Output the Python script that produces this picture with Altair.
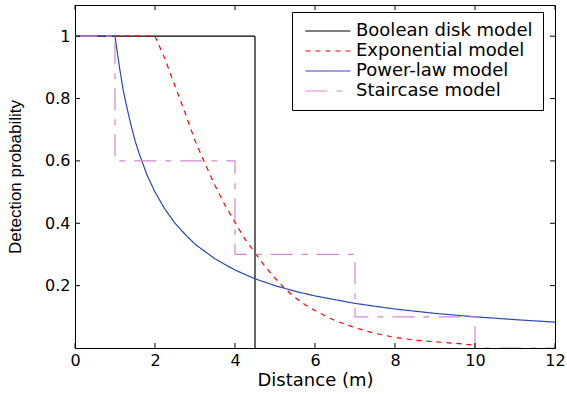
import altair as alt
import pandas as pd

# ---------------- data ----------------
models = ["Boolean disk model", "Exponential model", "Power-law model", "Staircase model"]
colors = ["#000000", "#ff0000", "#2a48b4", "#d386cf"]
dashes = [[1, 0], [5, 5], [1, 0], [22, 9, 6, 9]]

boolean_x = [0, 4.5, 4.5]
boolean_y = [1, 1, 0]

exp_x = [0, 2, 2.25, 2.5, 2.75, 3, 3.25, 3.5, 3.75, 4, 4.25, 4.5, 4.75, 5, 5.25,
         5.5, 5.75, 6, 6.5, 7, 7.5, 8, 8.5, 9, 9.5, 10]
exp_y = [1, 1, 0.927, 0.84, 0.755, 0.665, 0.592, 0.521, 0.458, 0.403, 0.349, 0.305,
         0.262, 0.224, 0.19, 0.162, 0.139, 0.12, 0.088, 0.065, 0.047, 0.034, 0.025,
         0.02, 0.015, 0.009]

power_x = [0, 1, 1.1, 1.2, 1.3, 1.4, 1.5, 1.6, 1.8, 2, 2.25, 2.5, 2.75, 3, 3.5, 4,
           4.5, 5, 5.5, 6, 7, 8, 9, 10, 11, 12]
power_y = [1, 1, 0.91, 0.83, 0.77, 0.715, 0.665, 0.625, 0.555, 0.5, 0.445, 0.4, 0.365,
           0.333, 0.286, 0.25, 0.222, 0.2, 0.182, 0.167, 0.143, 0.125, 0.111, 0.1,
           0.091, 0.083]

stair_x = [0, 1, 1, 4, 4, 7, 7, 10, 10, 12]
stair_y = [1, 1, 0.6, 0.6, 0.3, 0.3, 0.1, 0.1, 0, 0]

x_ticks = [0, 2, 4, 6, 8, 10, 12]
y_ticks = [0.2, 0.4, 0.6, 0.8, 1.0]

# ---------------- build table ----------------
rows = []
for name, xs, ys in [(models[0], boolean_x, boolean_y), (models[1], exp_x, exp_y),
                     (models[2], power_x, power_y), (models[3], stair_x, stair_y)]:
    for i, (x, y) in enumerate(zip(xs, ys)):
        rows.append({"model": name, "distance": x, "prob": y, "idx": i})
df = pd.DataFrame(rows)

W, H = 480, 343
xscale = alt.Scale(domain=[0, 12], nice=False, zero=False)
yscale = alt.Scale(domain=[0, 1.1], nice=False)
XT = "Distance (m)"
YT = "Detection probability"

leg = alt.Legend(title=None, orient="none", legendX=217, legendY=7,
                 fillColor="white", strokeColor="black", padding=10,
                 labelFont="DejaVu Sans", labelFontSize=18, labelColor="black",
                 symbolType="M-1,0H7", symbolSize=127, symbolStrokeWidth=1.2,
                 labelOffset=36, rowPadding=2, labelLimit=400,
                 labelExpr="datum.label + '\u00a0\u00a0'")

lines = alt.Chart(df).mark_line(strokeWidth=1.2, clip=True).encode(
    x=alt.X("distance:Q", scale=xscale, title=XT,
            axis=alt.Axis(values=x_ticks, tickSize=0, grid=False, title=XT,
                          labelFont="DejaVu Sans", labelFontSize=16, labelColor="black",
                          labelPadding=4, titleFont="DejaVu Sans", titleFontSize=18,
                          titleFontWeight="normal", titleColor="black", titlePadding=3,
                          domainColor="black", labelFlush=False)),
    y=alt.Y("prob:Q", scale=yscale, title=YT,
            axis=alt.Axis(values=y_ticks, format=".1~f", tickSize=0, grid=False,
                          title=YT,
                          labelFont="DejaVu Sans", labelFontSize=16, labelColor="black",
                          labelPadding=5, titleFont="Liberation Sans", titleFontSize=17,
                          titleFontWeight="normal", titleColor="black", titlePadding=20,
                          domainColor="black", labelFlush=False)),
    color=alt.Color("model:N", scale=alt.Scale(domain=models, range=colors), legend=leg),
    strokeDash=alt.StrokeDash("model:N", scale=alt.Scale(domain=models, range=dashes), legend=leg),
    order=alt.Order("idx:Q"),
)

xt = pd.DataFrame({"t": x_ticks})
yt = pd.DataFrame({"t": y_ticks})
tick_len = 5
bottom_ticks = alt.Chart(xt).mark_rule(color="black", strokeWidth=1).encode(
    x=alt.X("t:Q", scale=xscale, title=XT), y=alt.value(H), y2=alt.value(H - tick_len))
top_ticks = alt.Chart(xt).mark_rule(color="black", strokeWidth=1).encode(
    x=alt.X("t:Q", scale=xscale, title=XT), y=alt.value(0), y2=alt.value(tick_len))
left_ticks = alt.Chart(yt).mark_rule(color="black", strokeWidth=1).encode(
    y=alt.Y("t:Q", scale=yscale, title=YT), x=alt.value(0), x2=alt.value(tick_len))
right_ticks = alt.Chart(yt).mark_rule(color="black", strokeWidth=1).encode(
    y=alt.Y("t:Q", scale=yscale, title=YT), x=alt.value(W), x2=alt.value(W - tick_len))

chart = alt.layer(lines, bottom_ticks, top_ticks, left_ticks, right_ticks).properties(
    width=W, height=H,
    autosize=alt.AutoSizeParams(type="none"),
    padding={"left": 75, "top": 5, "right": 12, "bottom": 46},
    background="white",
).configure_view(stroke="black", strokeWidth=1)

chart.save("out.html", embed_options={"renderer": "svg", "actions": False})
